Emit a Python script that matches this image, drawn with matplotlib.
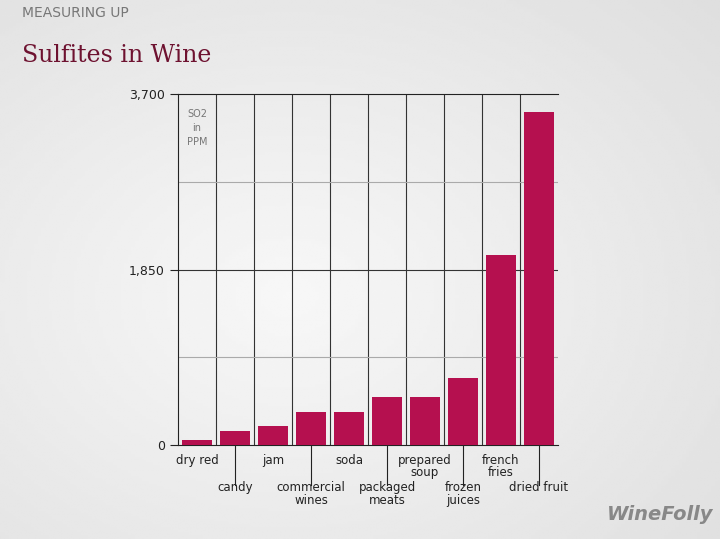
import matplotlib.pyplot as plt
import numpy as np

foods = ["dry red", "candy", "jam", "commercial\nwines", "soda", "packaged\nmeats",
         "prepared\nsoup", "frozen\njuices", "french\nfries", "dried fruit"]
so2 = [50, 150, 200, 350, 350, 505, 505, 705, 2000, 3510]
yticks = [0, 1850, 3700]
ytick_labels = ["0", "1,850", "3,700"]

fig = plt.figure(figsize=(7.2, 5.39), dpi=100)
# grey radial-ish background
bg = fig.add_axes([0, 0, 1, 1], zorder=-1)
yy, xx = np.mgrid[0:1:200j, 0:1:200j]
g = 0.97 - 0.12 * np.sqrt((xx - 0.4) ** 2 + (yy - 0.55) ** 2)
bg.imshow(g, cmap="gray", vmin=0, vmax=1, extent=[0, 1, 0, 1], aspect="auto")
bg.axis("off")

ax = fig.add_axes([178 / 720, 1 - 445 / 539, 380 / 720, 351 / 539])
ax.set_facecolor("none")
x = np.arange(len(foods))
ax.bar(x, so2, width=0.78, color="#b5104f", zorder=3)
ax.set_xlim(-0.5, len(foods) - 0.5)
ax.set_ylim(0, 3700)
for xv in np.arange(0.5, len(foods) - 0.5):
    ax.axvline(xv, color="#333333", lw=0.8, zorder=1)
for yv, c in [(925, "#aaaaaa"), (1850, "#333333"), (2775, "#aaaaaa")]:
    ax.axhline(yv, color=c, lw=0.8, zorder=1)
for s in ["left", "bottom", "top"]:
    ax.spines[s].set_color("#222222")
ax.spines["right"].set_visible(False)
ax.set_yticks(yticks)
ax.set_yticklabels(ytick_labels, fontsize=9, color="#222222")
ax.tick_params(axis="y", length=6, color="#222222")
ax.set_xticks([])
for i, name in enumerate(foods):
    if i % 2 == 0:
        ax.text(i, -90, name, ha="center", va="top", fontsize=8.5, color="#222222",
                linespacing=0.95)
    else:
        ax.plot([i, i], [0, -420], color="#222222", lw=0.8, clip_on=False)
        ax.text(i, -380, name, ha="center", va="top", fontsize=8.5, color="#222222",
                linespacing=0.95)
ax.text(0, 3540, "SO2\nin\nPPM", ha="center", va="top", fontsize=7, color="#777777",
        linespacing=1.5)

fig.text(22 / 720, 1 - 13 / 539, "MEASURING UP", fontsize=10, color="#777777", va="center")
fig.text(22 / 720, 1 - 55 / 539, "Sulfites in Wine", fontsize=17, color="#6e1230",
         va="center", family="DejaVu Serif")
fig.text(607 / 720, 1 - 515 / 539, "WineFolly", fontsize=14, color="#888888",
         style="italic", weight="bold", va="center")
fig.savefig("out.png", dpi=100)
